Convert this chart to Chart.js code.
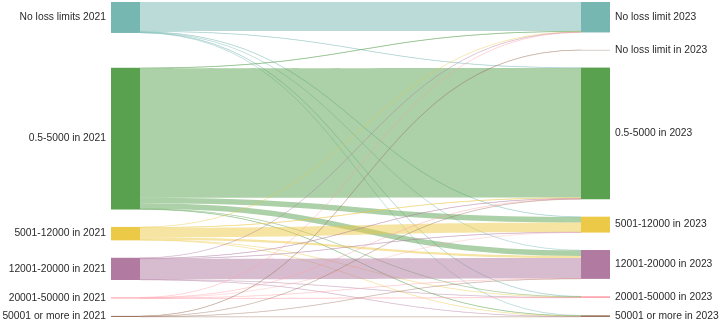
<!DOCTYPE html>
<html>
<head>
<meta charset="utf-8">
<script src="https://cdn.jsdelivr.net/npm/chart.js@4.4.0/dist/chart.umd.min.js"></script>
<style>
  html, body { margin: 0; padding: 0; background: #fff; }
  #wrap { width: 720px; height: 321px; }
</style>
</head>
<body>
<div id="wrap"><canvas id="sankeyChart"></canvas></div>
<script>
// Nodes, 2021 (left) and 2023 (right). The empty 2021 "no loss limit" node has no flows.
const leftNodes = ["No loss limits 2021", "No loss limit in 2021", "0.5-5000 in 2021", "5001-12000 in 2021",
  "12001-20000 in 2021", "20001-50000 in 2021", "50001 or more in 2021"];
const rightNodes = ["No loss limit 2023", "No loss limit in 2023", "0.5-5000 in 2023", "5001-12000 in 2023",
  "12001-20000 in 2023", "20001-50000 in 2023", "50001 or more in 2023"];

const leftColors = ["#76b7b2", "#bab0ac", "#59a14f", "#edc948", "#b07aa1", "#ff9da7", "#9c755f"];
const rightColors = ["#76b7b2", "#bab0ac", "#59a14f", "#edc948", "#b07aa1", "#ff9da7", "#9c755f"];

// Flows: source index (left), target index (right), value
const linkSource = [0, 0, 0, 0, 0, 0,
  2, 2, 2, 2, 2, 2,
  3, 3, 3, 3, 3, 3,
  4, 4, 4, 4, 4, 4,
  5, 5, 5, 5, 5,
  6, 6, 6, 6];
const linkTarget = [0, 2, 3, 4, 5, 6,
  0, 2, 3, 4, 5, 6,
  0, 2, 3, 4, 5, 6,
  0, 2, 3, 4, 5, 6,
  0, 2, 3, 4, 5,
  1, 2, 4, 6];
const linkValue = [29.2, 0.5, 0.4, 0.4, 0.3, 0.3,
  0.6, 130, 5.5, 5.5, 0.4, 0.4,
  0.3, 0.8, 9.5, 2.2, 0.3, 0.4,
  0.3, 0.5, 0.4, 20.5, 0.3, 0.3,
  0.2, 0.2, 0.2, 0.2, 0.3,
  0.3, 0.3, 0.2, 0.3];

const NODE_PAD = 17.5;   // gap between nodes, in value units
const NODE_W = 29;       // node width in px

function nodeTotals(count, key) {
  const sums = new Array(count).fill(0);
  linkValue.forEach((v, i) => { sums[key[i]] += v; });
  return sums;
}
const leftVal = nodeTotals(leftNodes.length, linkSource);
const rightVal = nodeTotals(rightNodes.length, linkTarget);

function stack(values) {
  const tops = [];
  let y = 0;
  values.forEach(v => { tops.push(y); y += v + NODE_PAD; });
  return { tops, total: y - NODE_PAD };
}
const leftStack = stack(leftVal);
const rightStack = stack(rightVal);
const yMax = Math.max(leftStack.total, rightStack.total);

function hexA(hex, a) {
  const n = parseInt(hex.slice(1), 16);
  return `rgba(${n >> 16},${(n >> 8) & 255},${n & 255},${a})`;
}

const sankeyPlugin = {
  id: 'sankey',
  afterDatasetsDraw(chart) {
    const ctx = chart.ctx;
    const xs = chart.scales.x, ys = chart.scales.y;
    const x0 = xs.getPixelForValue(0), x1 = xs.getPixelForValue(1);
    const srcX = x0 + NODE_W, tgtX = x1 - NODE_W;

    // link offsets: at source ordered by target, at target ordered by source
    const idx = linkValue.map((v, i) => i);
    const srcOff = [], tgtOff = [];
    const sUsed = new Array(leftNodes.length).fill(0), tUsed = new Array(rightNodes.length).fill(0);
    idx.slice().sort((a, b) => linkSource[a] - linkSource[b] || linkTarget[a] - linkTarget[b]).forEach(i => {
      srcOff[i] = leftStack.tops[linkSource[i]] + sUsed[linkSource[i]];
      sUsed[linkSource[i]] += linkValue[i];
    });
    idx.slice().sort((a, b) => linkTarget[a] - linkTarget[b] || linkSource[a] - linkSource[b]).forEach(i => {
      tgtOff[i] = rightStack.tops[linkTarget[i]] + tUsed[linkTarget[i]];
      tUsed[linkTarget[i]] += linkValue[i];
    });

    ctx.save();
    const mx = (srcX + tgtX) / 2;
    idx.forEach(i => {
      const v = linkValue[i];
      const sy0 = ys.getPixelForValue(srcOff[i]), sy1 = ys.getPixelForValue(srcOff[i] + v);
      const ty0 = ys.getPixelForValue(tgtOff[i]), ty1 = ys.getPixelForValue(tgtOff[i] + v);
      ctx.beginPath();
      ctx.moveTo(srcX, sy0);
      ctx.bezierCurveTo(mx, sy0, mx, ty0, tgtX, ty0);
      ctx.lineTo(tgtX, ty1);
      ctx.bezierCurveTo(mx, ty1, mx, sy1, srcX, sy1);
      ctx.closePath();
      ctx.fillStyle = hexA(leftColors[linkSource[i]], 0.5);
      ctx.fill();
      if (sy1 - sy0 < 1) {
        // thin flows: keep them visible as hairlines
        ctx.strokeStyle = hexA(leftColors[linkSource[i]], 0.4);
        ctx.lineWidth = 0.8;
        ctx.beginPath();
        ctx.moveTo(srcX, (sy0 + sy1) / 2);
        ctx.bezierCurveTo(mx, (sy0 + sy1) / 2, mx, (ty0 + ty1) / 2, tgtX, (ty0 + ty1) / 2);
        ctx.stroke();
      }
    });

    // nodes and labels
    ctx.font = '10.3px "Liberation Sans", Arial, sans-serif';
    ctx.textBaseline = 'middle';
    const drawCol = (names, vals, st, colors, nx, left) => {
      names.forEach((name, i) => {
        if (vals[i] <= 0) return;
        const yt = ys.getPixelForValue(st.tops[i]), yb = ys.getPixelForValue(st.tops[i] + vals[i]);
        ctx.fillStyle = colors[i];
        ctx.fillRect(nx, yt, NODE_W, Math.max(yb - yt, 0.6));
        ctx.fillStyle = '#2a2a2a';
        const cy = (yt + yb) / 2;
        if (left) { ctx.textAlign = 'right'; ctx.fillText(name, nx - 5, cy); }
        else { ctx.textAlign = 'left'; ctx.fillText(name, nx + NODE_W + 5, cy); }
      });
    };
    drawCol(leftNodes, leftVal, leftStack, leftColors, x0, true);
    drawCol(rightNodes, rightVal, rightStack, rightColors, tgtX, false);
    ctx.restore();
  }
};

new Chart(document.getElementById('sankeyChart'), {
  type: 'scatter',
  data: { datasets: [{ data: [] }] },
  options: {
    responsive: true,
    maintainAspectRatio: false,
    animation: false,
    layout: { padding: { left: 111, right: 110, top: 2, bottom: 4 } },
    plugins: { legend: { display: false }, tooltip: { enabled: false } },
    scales: {
      x: { type: 'linear', min: 0, max: 1, display: false },
      y: { type: 'linear', min: 0, max: yMax, reverse: true, display: false }
    }
  },
  plugins: [sankeyPlugin]
});
</script>
</body>
</html>
